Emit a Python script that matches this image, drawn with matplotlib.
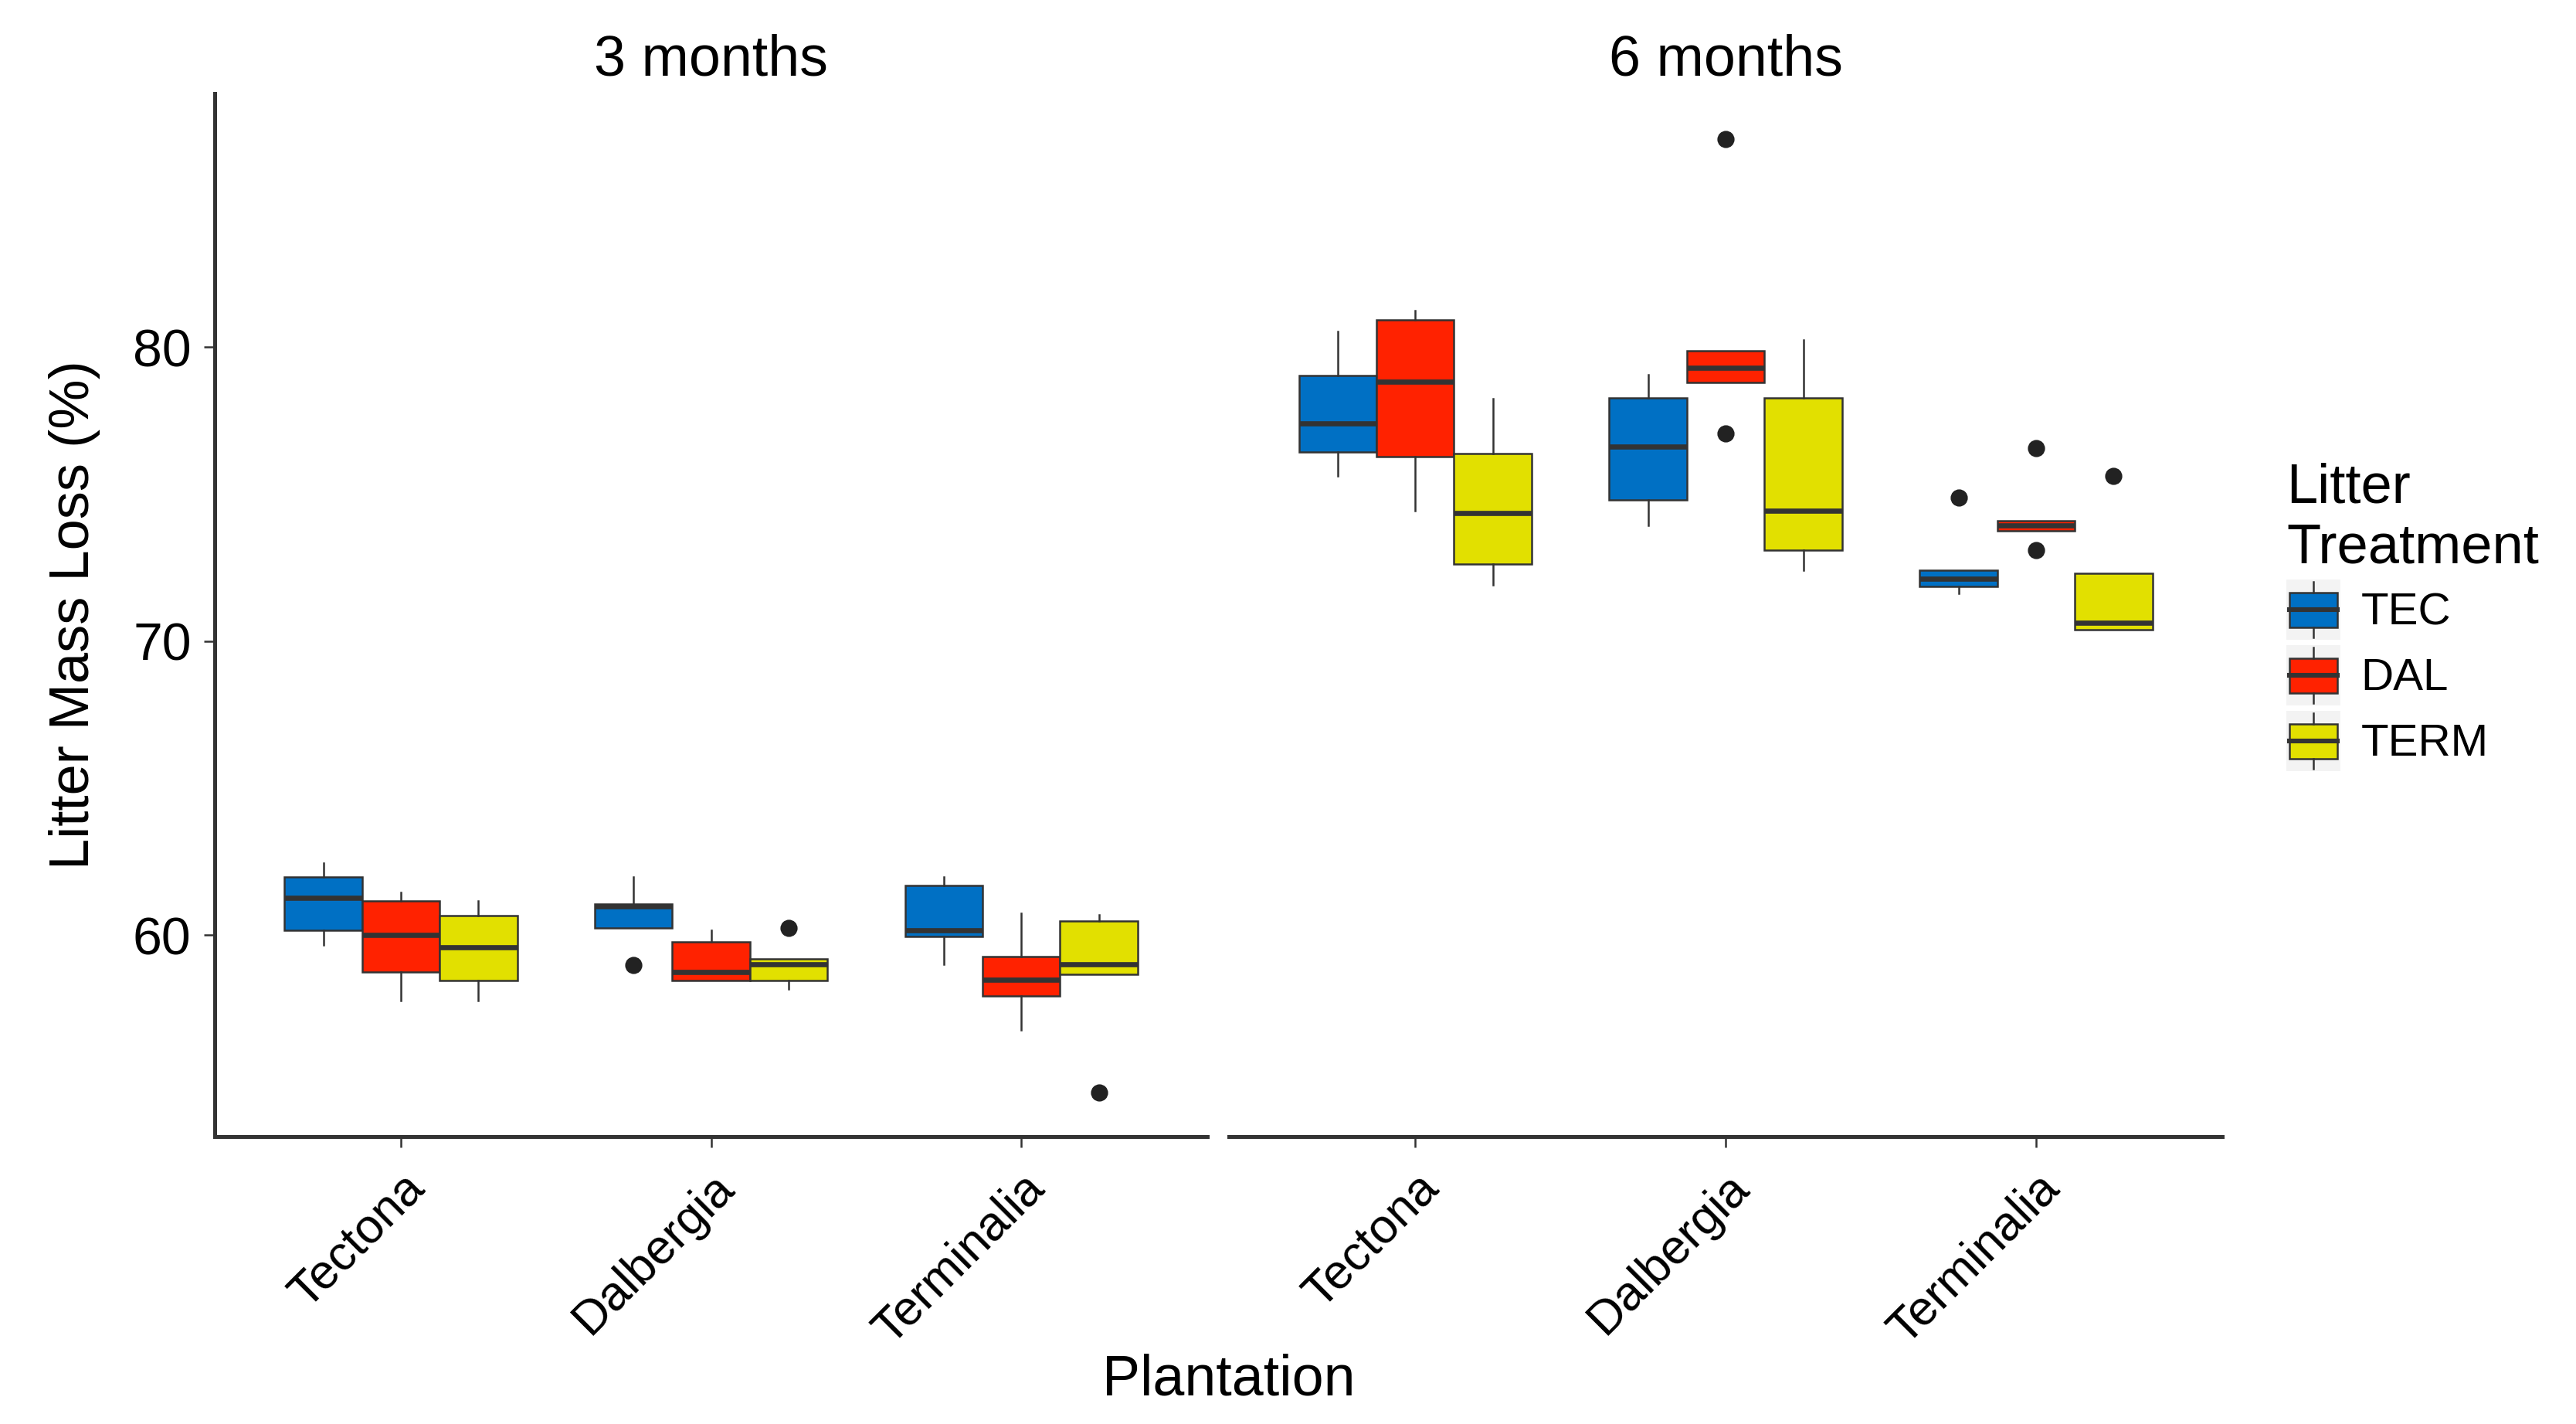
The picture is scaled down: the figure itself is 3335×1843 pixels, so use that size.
import numpy as np
import matplotlib
matplotlib.use('Agg')
import matplotlib.pyplot as plt
from matplotlib.patches import Rectangle, Patch
from matplotlib.lines import Line2D
from matplotlib.legend_handler import HandlerBase

plt.rcParams['font.family'] = ['Liberation Sans', 'DejaVu Sans']

# categories
periods = ['3 months', '6 months']
plantations = ['Tectona', 'Dalbergia', 'Terminalia']
treatments = ['TEC', 'DAL', 'TERM']
colors = ['#0070C4', '#FF2200', '#E2E000']

# box stats, [plantation][treatment]
m3_q1 = [[60.15, 58.74, 58.45], [60.25, 58.45, 58.45], [59.96, 57.93, 58.65]]
m3_med = [[61.26, 60.00, 59.57], [60.97, 58.74, 59.00], [60.15, 58.49, 59.00]]
m3_q3 = [[61.97, 61.16, 60.66], [61.06, 59.77, 59.19], [61.68, 59.27, 60.48]]
m3_lo = [[59.67, 57.78, 57.78], [60.25, 58.45, 58.16], [59.00, 56.77, 58.65]]
m3_hi = [[62.45, 61.45, 61.16], [61.97, 60.15, 59.19], [61.97, 60.73, 60.68]]
m3_out = [[[], [], []], [[58.98], [], [60.25]], [[], [], [54.65]]]

m6_q1 = [[76.43, 76.27, 72.62], [74.79, 78.78, 73.09], [71.86, 73.75, 70.38]]
m6_med = [[77.39, 78.83, 74.34], [76.60, 79.28, 74.42], [72.13, 73.92, 70.62]]
m6_q3 = [[79.03, 80.92, 76.38], [78.28, 79.87, 78.28], [72.41, 74.09, 72.30]]
m6_lo = [[75.60, 74.42, 71.92], [73.92, 78.78, 72.41], [71.63, 73.75, 70.38]]
m6_hi = [[80.53, 81.24, 78.23], [79.06, 79.87, 80.25], [72.41, 74.09, 72.30]]
m6_out = [[[], [], []], [[], [87.06, 77.07], []], [[74.89], [76.57, 73.09], [75.60]]]

period_stats = [
    (m3_q1, m3_med, m3_q3, m3_lo, m3_hi, m3_out),
    (m6_q1, m6_med, m6_q3, m6_lo, m6_hi, m6_out),
]

edge = '#333333'
fig = plt.figure(figsize=(16.675, 9.215), dpi=200)
ax_l = fig.add_axes([0.0834, 0.2018, 0.3853, 0.7325])
ax_r = fig.add_axes([0.4771, 0.2018, 0.3856, 0.7325], sharey=ax_l)

for ax, period, stats in zip([ax_l, ax_r], periods, period_stats):
    q1, med, q3, lo, hi, out = stats
    for t, treat in enumerate(treatments):
        bxp_stats = []
        for p in range(len(plantations)):
            bxp_stats.append(dict(q1=q1[p][t], med=med[p][t], q3=q3[p][t],
                                  whislo=lo[p][t], whishi=hi[p][t],
                                  fliers=out[p][t]))
        pos = np.arange(1, len(plantations) + 1) + (t - 1) * 0.25
        ax.bxp(bxp_stats, positions=pos, widths=0.25, patch_artist=True,
               showcaps=False,
               boxprops=dict(facecolor=colors[t], edgecolor=edge, linewidth=0.9),
               medianprops=dict(color=edge, linewidth=2.4, solid_capstyle='butt'),
               whiskerprops=dict(color=edge, linewidth=0.9),
               flierprops=dict(marker='o', markerfacecolor='#222222',
                               markeredgecolor='#222222', markersize=7))
    ax.set_xlim(0.4, 3.6)
    ax.set_xticks(np.arange(1, len(plantations) + 1))
    ax.set_xticklabels(plantations, rotation=45, ha='right', va='top',
                       rotation_mode='anchor', fontsize=22.5)
    ax.set_title(period, fontsize=26.5, pad=8.5)
    for s in ['top', 'right']:
        ax.spines[s].set_visible(False)
    ax.spines['bottom'].set_linewidth(1.8)
    ax.spines['bottom'].set_color(edge)
    ax.tick_params(axis='x', length=5, width=0.9, color=edge, pad=8)

ax_l.set_ylim(53.14, 88.62)
ax_l.set_yticks([60, 70, 80])
ax_l.tick_params(axis='y', labelsize=24.5, length=5, width=0.9, color=edge, pad=6)
ax_l.spines['left'].set_linewidth(1.8)
ax_l.spines['left'].set_color(edge)
ax_l.set_ylabel('Litter Mass Loss (%)', fontsize=26, labelpad=15)

ax_r.spines['left'].set_visible(False)
ax_r.tick_params(axis='y', left=False, labelleft=False)

fig.text(0.4771, 0.031, 'Plantation', fontsize=26.5, ha='center', va='center')


class BoxHandler(HandlerBase):
    def create_artists(self, legend, orig_handle, xdescent, ydescent,
                       width, height, fontsize, trans):
        x0, y0 = -xdescent, -ydescent
        bg = Rectangle((x0, y0), width, height, facecolor='#F3F3F3',
                       edgecolor='none', transform=trans)
        rect = Rectangle((x0 + width * 0.06, y0 + height * 0.21), width * 0.88,
                         height * 0.58, facecolor=orig_handle.get_facecolor(),
                         edgecolor=edge, linewidth=0.9, transform=trans)
        mid = Line2D([x0 + width * 0.06, x0 + width * 0.94], [y0 + height / 2] * 2,
                     color=edge, linewidth=2.2, transform=trans)
        wt = Line2D([x0 + width / 2] * 2, [y0 + height * 0.79, y0 + height * 0.96],
                    color=edge, linewidth=0.9, transform=trans)
        wb = Line2D([x0 + width / 2] * 2, [y0 + height * 0.04, y0 + height * 0.21],
                    color=edge, linewidth=0.9, transform=trans)
        return [bg, rect, mid, wt, wb]


handles = [Patch(facecolor=c, label=t) for c, t in zip(colors, treatments)]
leg = fig.legend(handles=handles, handler_map={Patch: BoxHandler()},
                 title='Litter\nTreatment', loc='upper left',
                 bbox_to_anchor=(0.8876, 0.6750), frameon=False, fontsize=21,
                 title_fontsize=26, handlelength=1.2, handleheight=1.68,
                 labelspacing=0.12, handletextpad=0.45, borderpad=0,
                 borderaxespad=0)
leg._legend_box.align = 'left'

fig.savefig('out.png', dpi=200, facecolor='white')
